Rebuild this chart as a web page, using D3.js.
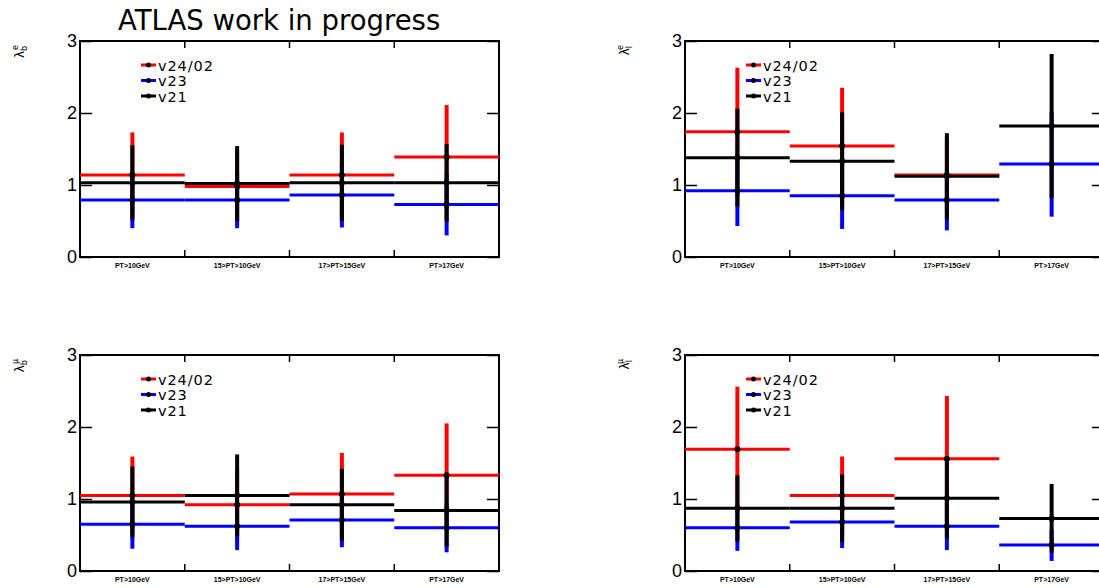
<!DOCTYPE html>
<html><head><meta charset="utf-8">
<script src="https://cdn.jsdelivr.net/npm/d3@7"></script>
<style>
html,body{margin:0;padding:0;background:#fff;overflow:hidden;}
svg{display:block;}
</style></head>
<body>
<svg id="c" width="1099" height="588"></svg>
<script>
// ---------- data ----------
const categories = ["PT>10GeV", "15>PT>10GeV", "17>PT>15GeV", "PT>17GeV"];
const seriesNames = ["v24/02", "v23", "v21"];
const seriesColors = ["#ff0000", "#0000ff", "#000000"];
const yTicks = [0, 1, 2, 3];

// lambda_b^e
const lbe_v2402 = [1.14, 0.98, 1.14, 1.39];
const lbe_v2402_err = [0.59, 0.50, 0.59, 0.72];
const lbe_v23 = [0.79, 0.79, 0.86, 0.73];
const lbe_v23_err = [0.39, 0.39, 0.45, 0.43];
const lbe_v21 = [1.03, 1.02, 1.03, 1.03];
const lbe_v21_err = [0.52, 0.52, 0.53, 0.54];

// lambda_l^e
const lle_v2402 = [1.74, 1.54, 1.14, null];
const lle_v2402_err = [0.89, 0.81, 0.50, null];
const lle_v23 = [0.92, 0.85, 0.79, 1.29];
const lle_v23_err = [0.49, 0.46, 0.42, 0.73];
const lle_v21 = [1.38, 1.33, 1.12, 1.82];
const lle_v21_err = [0.68, 0.68, 0.60, 1.00];

// lambda_b^mu
const lbm_v2402 = [1.05, 0.92, 1.07, 1.33];
const lbm_v2402_err = [0.54, 0.50, 0.57, 0.72];
const lbm_v23 = [0.65, 0.62, 0.71, 0.60];
const lbm_v23_err = [0.34, 0.33, 0.38, 0.34];
const lbm_v21 = [0.96, 1.05, 0.92, 0.84];
const lbm_v21_err = [0.49, 0.57, 0.50, 0.50];

// lambda_l^mu
const llm_v2402 = [1.69, 1.05, 1.56, null];
const llm_v2402_err = [0.87, 0.54, 0.87, null];
const llm_v23 = [0.60, 0.68, 0.62, 0.36];
const llm_v23_err = [0.32, 0.36, 0.33, 0.22];
const llm_v21 = [0.87, 0.87, 1.01, 0.73];
const llm_v21_err = [0.46, 0.47, 0.56, 0.48];

// ---------- layout ----------
const panels = [
  {sub:"b", sup:"e", x0:80, y0:41, vals:[lbe_v2402,lbe_v23,lbe_v21], errs:[lbe_v2402_err,lbe_v23_err,lbe_v21_err]},
  {sub:"l", sup:"e", x0:685, y0:41, vals:[lle_v2402,lle_v23,lle_v21], errs:[lle_v2402_err,lle_v23_err,lle_v21_err]},
  {sub:"b", sup:"\u03bc", x0:80, y0:355, vals:[lbm_v2402,lbm_v23,lbm_v21], errs:[lbm_v2402_err,lbm_v23_err,lbm_v21_err]},
  {sub:"l", sup:"\u03bc", x0:685, y0:355, vals:[llm_v2402,llm_v23,llm_v21], errs:[llm_v2402_err,llm_v23_err,llm_v21_err]}
];
const W = 419, H = 216;
const svg = d3.select("#c");

svg.append("text").attr("x", 118).attr("y", 30)
  .attr("font-family", "DejaVu Sans").attr("font-size", 27.5).attr("fill", "#000")
  .text("ATLAS work in progress");

panels.forEach(p => {
  const g = svg.append("g").attr("transform", `translate(${p.x0},${p.y0})`);
  const x = d3.scaleBand().domain(categories).range([0, W]).padding(0);
  const y = d3.scaleLinear().domain([0, 3]).range([H, 0]);

  // frame
  g.append("rect").attr("x", 0).attr("y", 0).attr("width", W).attr("height", H)
    .attr("fill", "none").attr("stroke", "#000").attr("stroke-width", 2);

  // y axes (ticks inside)
  const yl = d3.axisRight(y).tickValues(yTicks).tickSize(12).tickFormat("");
  g.append("g").call(yl).call(a => a.select(".domain").remove())
    .selectAll("line").attr("stroke", "#000").attr("stroke-width", 1.5);
  const yr = d3.axisLeft(y).tickValues(yTicks).tickSize(12).tickFormat("");
  g.append("g").attr("transform", `translate(${W},0)`).call(yr).call(a => a.select(".domain").remove())
    .selectAll("line").attr("stroke", "#000").attr("stroke-width", 1.5);
  // tick labels
  g.selectAll(".ylab").data(yTicks).enter().append("text")
    .attr("x", -3).attr("y", d => y(d) + 6).attr("text-anchor", "end")
    .attr("font-family", "Liberation Sans").attr("font-size", 18).attr("fill", "#000")
    .text(d => d);

  // x bin divider ticks
  const bounds = categories.slice(1).map(c => x(c));
  g.selectAll(".xtb").data(bounds).enter().append("line")
    .attr("x1", d => d).attr("x2", d => d).attr("y1", H).attr("y2", H - 7)
    .attr("stroke", "#000").attr("stroke-width", 1.5);
  g.selectAll(".xtt").data(bounds).enter().append("line")
    .attr("x1", d => d).attr("x2", d => d).attr("y1", 0).attr("y2", 7)
    .attr("stroke", "#000").attr("stroke-width", 1.5);
  // category labels
  g.selectAll(".xlab").data(categories).enter().append("text")
    .attr("x", d => x(d) + x.bandwidth() / 2).attr("y", H + 11).attr("text-anchor", "middle")
    .attr("font-family", "Liberation Sans").attr("font-weight", "bold").attr("font-size", 7)
    .attr("fill", "#000").text(d => d);

  // y title
  const yt = svg.append("text").attr("transform", `translate(${p.x0 - 56},${p.y0 + 4}) rotate(-90)`)
    .attr("font-family", "DejaVu Sans").attr("font-size", 12).attr("fill", "#000").attr("text-anchor", "end");
  yt.append("tspan").text("\u03bb");
  yt.append("tspan").attr("font-size", 8).attr("dy", 3).text(p.sub);
  yt.append("tspan").attr("font-size", 8).attr("dx", -4).attr("dy", -9).text(p.sup);

  // series
  const dataG = g.append("g");
  p.vals.forEach((vals, si) => {
    const errs = p.errs[si];
    const pts = categories.map((c, i) => ({c, v: vals[i], e: errs[i]})).filter(d => d.v != null);
    const sg = dataG.append("g");
    sg.selectAll(".h").data(pts).enter().append("line")
      .attr("x1", d => x(d.c)).attr("x2", d => x(d.c) + x.bandwidth())
      .attr("y1", d => y(d.v)).attr("y2", d => y(d.v))
      .attr("stroke", seriesColors[si]).attr("stroke-width", 3);
    sg.selectAll(".v").data(pts).enter().append("line")
      .attr("x1", d => x(d.c) + x.bandwidth() / 2).attr("x2", d => x(d.c) + x.bandwidth() / 2)
      .attr("y1", d => y(Math.max(0, d.v - d.e))).attr("y2", d => y(d.v + d.e))
      .attr("stroke", seriesColors[si]).attr("stroke-width", 4);
  });
  p.vals.forEach((vals) => {
    const pts = categories.map((c, i) => ({c, v: vals[i]})).filter(d => d.v != null);
    dataG.selectAll(null).data(pts).enter().append("circle")
      .attr("cx", d => x(d.c) + x.bandwidth() / 2).attr("cy", d => y(d.v)).attr("r", 3)
      .attr("fill", "#000");
  });

  // legend
  const lg = g.append("g").attr("transform", "translate(61,24)");
  seriesNames.forEach((n, i) => {
    const row = lg.append("g").attr("transform", `translate(0,${i * 15.5})`);
    row.append("line").attr("x1", 0).attr("x2", 15).attr("y1", 0).attr("y2", 0)
      .attr("stroke", seriesColors[i]).attr("stroke-width", 3);
    row.append("circle").attr("cx", 7.5).attr("cy", 0).attr("r", 2.5).attr("fill", "#000");
    row.append("text").attr("x", 17).attr("y", 5.5).attr("font-family", "DejaVu Sans")
      .attr("font-size", 14.5).attr("letter-spacing", 0.9).attr("fill", "#000").text(n);
  });
});
</script>
</body></html>
